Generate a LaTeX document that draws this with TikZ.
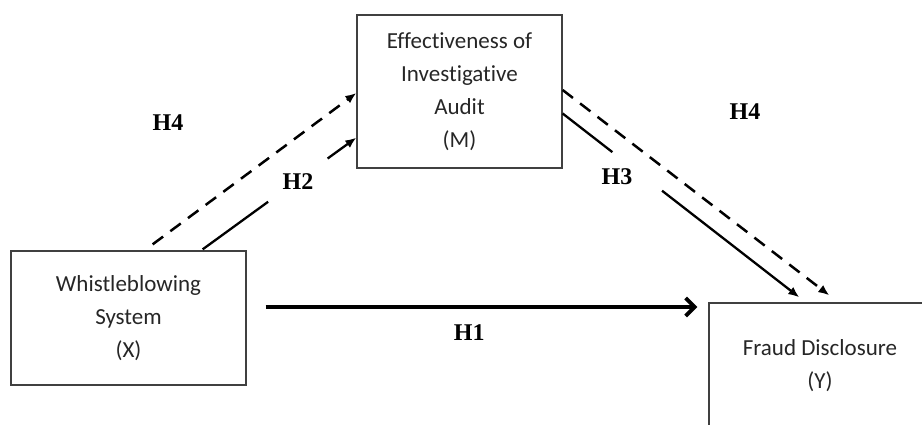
\documentclass[tikz,border=0pt]{standalone}
\usepackage{fontspec}
\setmainfont{Liberation Serif}
\newfontfamily\boxfont[Ligatures=NoCommon]{Carlito}
\usetikzlibrary{arrows.meta,calc}
\tikzset{
  var/.style={draw=black!75,line width=1.3pt,align=center,text=black!85,
    font=\boxfont\fontsize{23}{33}\selectfont},
  hyp/.style={font=\bfseries\fontsize{24}{26}\selectfont},
  link/.style={line width=2.3pt,-{Latex[length=11pt,width=9pt]}},
  indirect/.style={link,line width=2.5pt,dash pattern=on 13pt off 9pt}
}
\begin{document}
\begin{tikzpicture}[x=1pt,y=1pt]
  \useasboundingbox (0,0) rectangle (922,424);
  \clip (0,0) rectangle (922,424);
  \node[var,minimum width=235,minimum height=134] (X) at (128.5,106) {Whistleblowing\\System\\(X)};
  \node[var,minimum width=205,minimum height=153] (M) at (459.5,332.5) {Effectiveness of\\Investigative\\Audit\\(M)};
  \node[var,minimum width=222,minimum height=125] (Y) at (820,58.5) {Fraud Disclosure\\(Y)};
  % direct effect
  \coordinate (h1s) at ([xshift=19,yshift=11]X.east);
  \draw[line width=3.8pt,-{Straight Barb[length=9pt,width=18pt]},shorten >=11pt]
    (h1s) -- node[hyp,below=12pt,pos=0.46] (h1) {H1} (h1s -| Y.west);
  % a and b paths
  \coordinate (h2s) at ([xshift=-44,yshift=1]X.north east);
  \coordinate (h2e) at ([yshift=31]M.south west);
  \draw[link,-] (h2s) -- ($(h2s)!0.426!(h2e)$);
  \draw[link] ($(h2s)!0.813!(h2e)$) -- (h2e);
  \coordinate (h3s) at ([yshift=-22]M.east);
  \coordinate (h3e) at ([xshift=91,yshift=5]Y.north west);
  \draw[link,-] (h3s) -- ($(h3s)!0.21!(h3e)$);
  \draw[link] ($(h3s)!0.42!(h3e)$) -- (h3e);
  % mediated path
  \draw[indirect] ([xshift=-94,yshift=6]X.north east) -- ([yshift=-1.5]M.west);
  \draw[indirect] ([yshift=1.5]M.east) -- ([xshift=121,yshift=7]Y.north west);
  \node[hyp] (h2) at (298,242) {H2};
  \node[hyp] (h3) at (617,247) {H3};
  \node[hyp] (h4a) at (168,301) {H4};
  \node[hyp] (h4b) at (745,312) {H4};
\end{tikzpicture}
\end{document}
